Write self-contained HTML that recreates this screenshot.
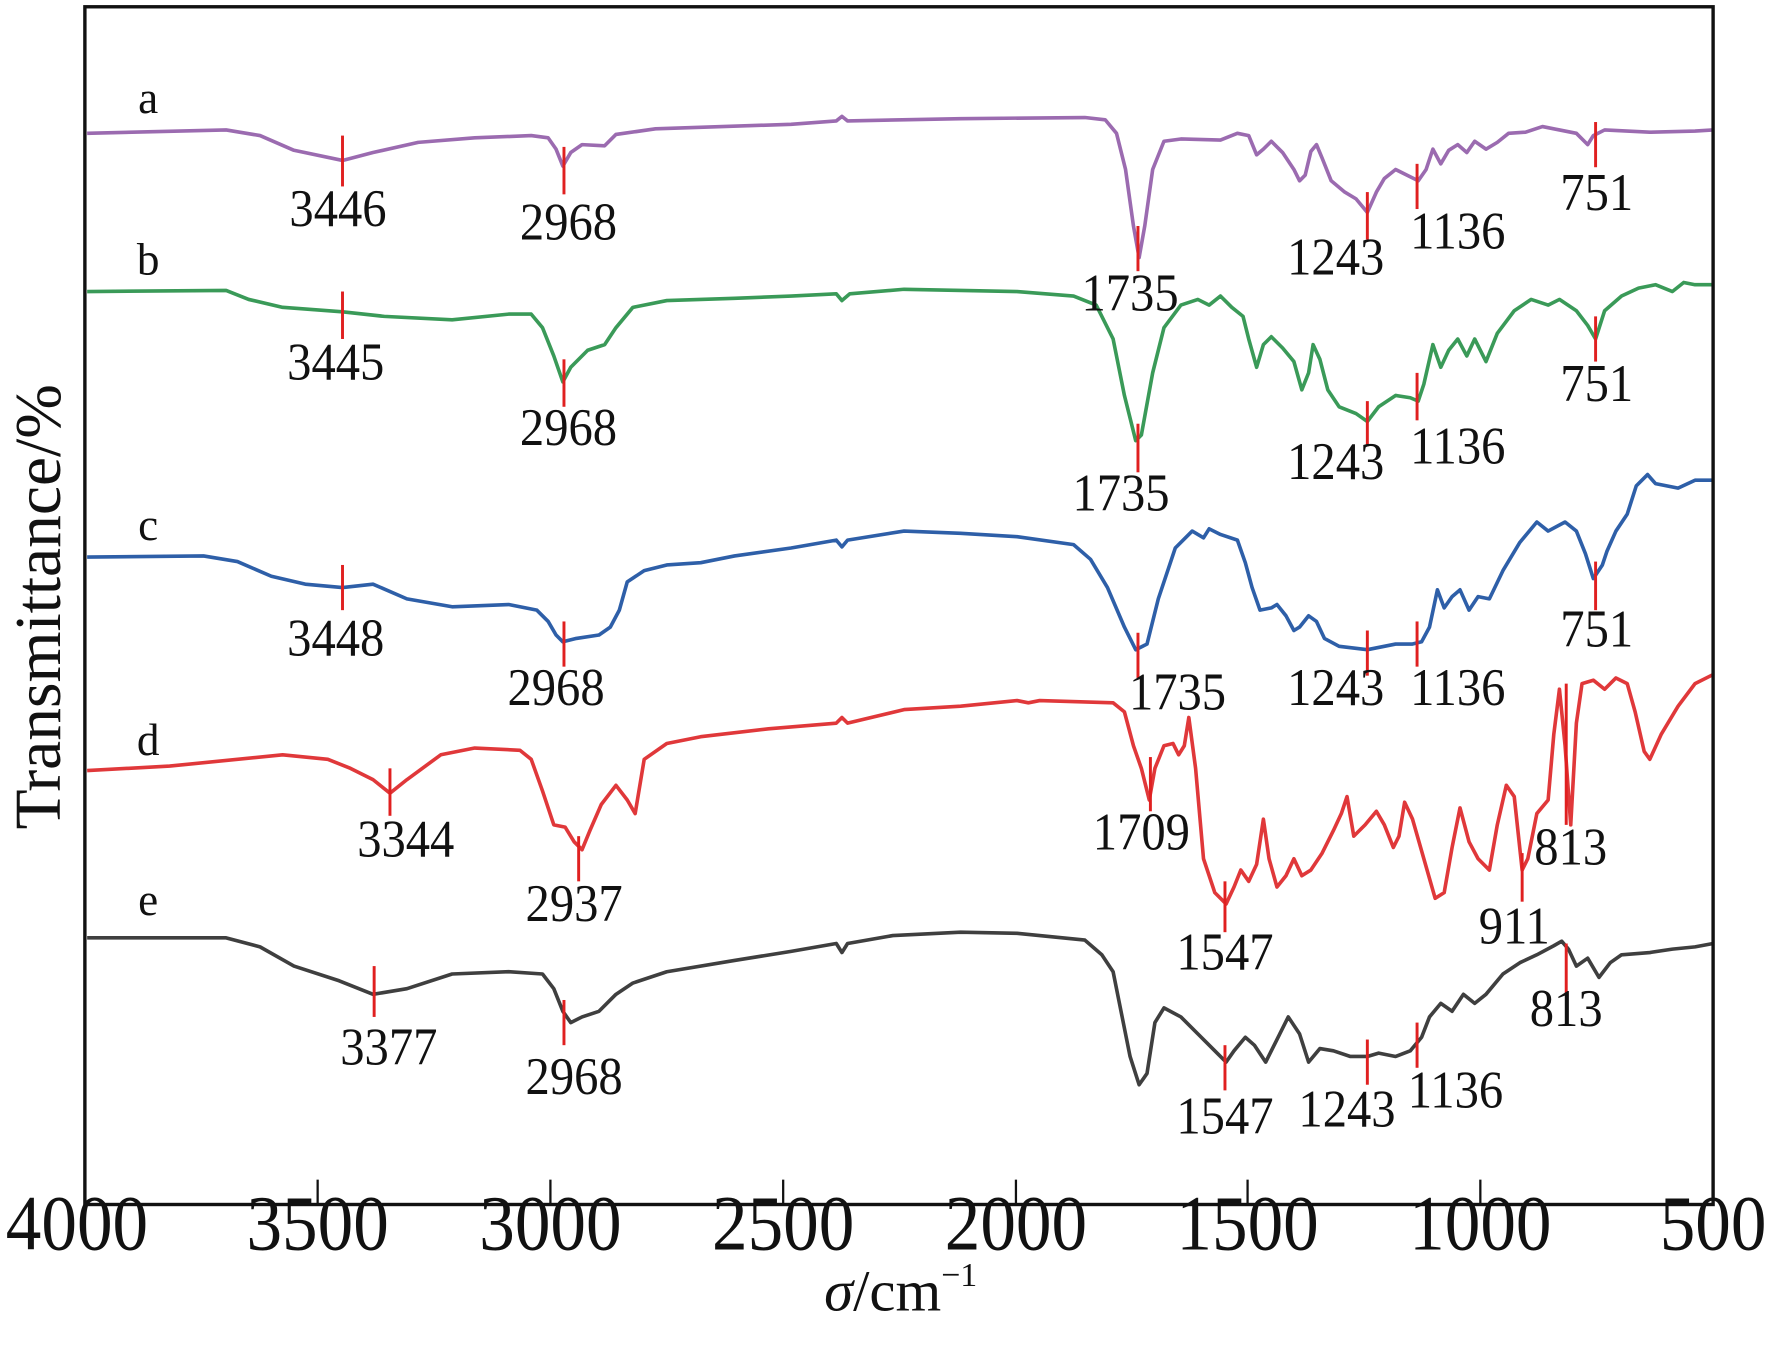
<!DOCTYPE html>
<html><head><meta charset="utf-8"><style>html,body{margin:0;padding:0;background:#fff}svg{display:block}</style></head><body>
<svg width="1772" height="1348" viewBox="0 0 1568 1193" xmlns="http://www.w3.org/2000/svg" font-family="'Liberation Serif', serif">
<rect width="1568" height="1193" fill="#fff"/>
<g fill="none" stroke-width="3.2" stroke-linejoin="round">
<polyline stroke="#9b6bb0" points="77,118 200,115 230,120 260,133 303,142 330,135 370,126 420,122 470,120 485,122 492,132 498,147 505,135 515,128 535,129 545,119 580,114 700,110 740,107 745,103 750,107 850,105 960,104 978,106 988,118 996,150 1003,200 1008,228 1013,200 1020,150 1030,125 1045,123 1080,124 1095,118 1105,120 1112,137 1118,132 1125,125 1135,135 1145,150 1150,160 1155,155 1160,134 1165,128 1170,140 1178,160 1190,170 1200,176 1210,188 1218,170 1225,158 1235,150 1245,155 1255,160 1262,150 1268,132 1275,145 1282,133 1290,128 1298,135 1305,125 1315,132 1325,126 1335,118 1350,117 1365,112 1380,115 1395,118 1405,128 1410,120 1420,115 1460,117 1500,116 1516,115"/>
<polyline stroke="#3a9a58" points="77,258 200,257 220,265 250,272 303,276 340,280 400,283 450,278 470,278 480,290 490,315 498,338 505,325 520,310 535,305 545,290 560,272 590,266 650,264 700,262 740,260 745,266 752,260 800,256 900,258 950,262 970,270 985,300 995,350 1005,390 1010,385 1020,330 1030,290 1045,270 1060,265 1070,270 1080,262 1090,272 1100,280 1105,300 1112,325 1118,305 1125,298 1135,308 1145,320 1152,345 1158,330 1162,305 1168,318 1175,345 1185,360 1200,366 1210,373 1220,360 1235,350 1248,352 1255,355 1260,340 1268,305 1275,325 1282,310 1290,300 1298,315 1305,300 1315,320 1325,295 1340,275 1355,265 1370,270 1380,265 1395,275 1405,288 1412,300 1420,275 1435,262 1450,255 1465,252 1480,258 1490,250 1500,252 1516,252"/>
<polyline stroke="#2e5fa8" points="77,493 180,492 210,497 240,510 270,517 303,520 330,517 360,530 400,537 450,535 475,540 485,550 492,562 498,568 510,565 530,562 540,555 548,540 555,515 570,505 590,500 620,498 650,492 700,485 740,478 745,484 750,478 800,470 850,472 900,475 950,482 965,495 980,520 995,555 1005,575 1015,570 1025,530 1040,485 1055,470 1065,476 1070,468 1080,473 1095,478 1102,498 1108,520 1115,540 1125,538 1130,535 1138,545 1145,558 1150,555 1158,545 1165,550 1172,565 1185,572 1210,575 1235,570 1250,570 1258,568 1265,555 1272,522 1278,538 1285,528 1292,522 1300,540 1308,528 1318,530 1330,505 1345,480 1360,462 1370,470 1385,462 1395,470 1403,490 1410,512 1418,500 1422,488 1430,470 1440,455 1448,430 1458,420 1465,428 1475,430 1485,432 1500,425 1516,425"/>
<polyline stroke="#e0383a" points="77,682 150,678 250,668 290,672 310,680 330,690 345,702 360,690 390,668 420,662 460,664 470,672 480,700 490,730 500,732 508,745 515,752 522,735 532,712 545,695 555,708 562,720 570,672 590,658 620,652 680,645 740,640 745,635 750,640 800,628 850,625 900,620 910,622 920,620 985,622 995,630 1003,660 1010,680 1017,708 1022,680 1030,660 1038,658 1043,668 1048,660 1052,635 1058,680 1065,760 1075,790 1085,800 1092,785 1098,770 1105,780 1112,765 1118,725 1123,760 1130,785 1138,775 1145,760 1152,775 1160,770 1170,755 1180,735 1187,720 1192,705 1198,740 1208,730 1218,718 1225,730 1233,750 1238,740 1243,710 1250,725 1260,760 1270,795 1278,790 1285,750 1292,715 1300,745 1308,760 1318,770 1325,730 1333,695 1340,705 1347,770 1352,760 1360,720 1370,708 1375,650 1380,610 1385,660 1390,730 1395,640 1400,605 1410,602 1420,610 1430,600 1440,605 1447,630 1455,665 1460,672 1470,650 1485,625 1500,605 1516,597"/>
<polyline stroke="#3f3f3f" points="77,830 200,830 230,838 260,855 300,868 330,880 360,875 400,862 450,860 480,862 490,875 498,895 505,905 515,900 530,895 545,880 560,870 590,860 650,850 700,842 740,835 745,843 750,835 790,828 850,825 900,826 960,832 975,845 985,860 993,900 1000,935 1008,960 1015,950 1022,905 1030,892 1045,900 1060,915 1075,930 1085,940 1092,930 1102,918 1110,925 1120,940 1130,920 1140,900 1150,915 1158,940 1168,928 1180,930 1195,935 1210,935 1220,932 1235,935 1248,930 1258,918 1265,900 1275,888 1285,895 1295,880 1305,888 1315,880 1330,862 1345,852 1360,845 1375,837 1382,833 1388,840 1395,855 1405,848 1415,865 1425,852 1435,845 1460,843 1480,840 1500,838 1516,835"/>
</g>
<g stroke="#e02020" stroke-width="2.6">
<line x1="303" y1="120" x2="303" y2="165"/><line x1="499" y1="130" x2="499" y2="172"/><line x1="1007" y1="200" x2="1007" y2="240"/><line x1="1210" y1="170" x2="1210" y2="212"/><line x1="1254" y1="145" x2="1254" y2="185"/><line x1="1412" y1="108" x2="1412" y2="148"/>
<line x1="303" y1="258" x2="303" y2="300"/><line x1="499" y1="318" x2="499" y2="360"/><line x1="1007" y1="375" x2="1007" y2="418"/><line x1="1210" y1="355" x2="1210" y2="395"/><line x1="1254" y1="330" x2="1254" y2="372"/><line x1="1412" y1="280" x2="1412" y2="320"/>
<line x1="303" y1="500" x2="303" y2="540"/><line x1="499" y1="550" x2="499" y2="590"/><line x1="1007" y1="560" x2="1007" y2="600"/><line x1="1210" y1="558" x2="1210" y2="598"/><line x1="1254" y1="550" x2="1254" y2="590"/><line x1="1412" y1="497" x2="1412" y2="540"/>
<line x1="345" y1="680" x2="345" y2="722"/><line x1="512" y1="740" x2="512" y2="780"/><line x1="1018" y1="670" x2="1018" y2="718"/><line x1="1084" y1="780" x2="1084" y2="825"/><line x1="1347" y1="755" x2="1347" y2="798"/><line x1="1386" y1="605" x2="1386" y2="730"/>
<line x1="331" y1="855" x2="331" y2="900"/><line x1="499" y1="885" x2="499" y2="925"/><line x1="1084" y1="925" x2="1084" y2="965"/><line x1="1210" y1="920" x2="1210" y2="960"/><line x1="1254" y1="905" x2="1254" y2="945"/><line x1="1386" y1="835" x2="1386" y2="880"/>
</g>
<g font-size="43" text-anchor="middle" fill="#111">
<g transform="translate(0,200) scale(1,1.08) translate(0,-200)"><text x="299" y="200">3446</text></g>
<g transform="translate(0,212) scale(1,1.08) translate(0,-212)"><text x="503" y="212">2968</text></g>
<g transform="translate(0,275) scale(1,1.08) translate(0,-275)"><text x="1000" y="275">1735</text></g>
<g transform="translate(0,243) scale(1,1.08) translate(0,-243)"><text x="1182" y="243">1243</text></g>
<g transform="translate(0,220) scale(1,1.08) translate(0,-220)"><text x="1290" y="220">1136</text></g>
<g transform="translate(0,186) scale(1,1.08) translate(0,-186)"><text x="1413" y="186">751</text></g>
<g transform="translate(0,336) scale(1,1.08) translate(0,-336)"><text x="297" y="336">3445</text></g>
<g transform="translate(0,394) scale(1,1.08) translate(0,-394)"><text x="503" y="394">2968</text></g>
<g transform="translate(0,452) scale(1,1.08) translate(0,-452)"><text x="992" y="452">1735</text></g>
<g transform="translate(0,424) scale(1,1.08) translate(0,-424)"><text x="1182" y="424">1243</text></g>
<g transform="translate(0,410) scale(1,1.08) translate(0,-410)"><text x="1290" y="410">1136</text></g>
<g transform="translate(0,355) scale(1,1.08) translate(0,-355)"><text x="1413" y="355">751</text></g>
<g transform="translate(0,580) scale(1,1.08) translate(0,-580)"><text x="297" y="580">3448</text></g>
<g transform="translate(0,624) scale(1,1.08) translate(0,-624)"><text x="492" y="624">2968</text><text x="1182" y="624">1243</text><text x="1290" y="624">1136</text></g>
<g transform="translate(0,628) scale(1,1.08) translate(0,-628)"><text x="1042" y="628">1735</text></g>
<g transform="translate(0,572) scale(1,1.08) translate(0,-572)"><text x="1413" y="572">751</text></g>
<g transform="translate(0,758) scale(1,1.08) translate(0,-758)"><text x="359" y="758">3344</text></g>
<g transform="translate(0,815) scale(1,1.08) translate(0,-815)"><text x="508" y="815">2937</text></g>
<g transform="translate(0,752) scale(1,1.08) translate(0,-752)"><text x="1010" y="752">1709</text></g>
<g transform="translate(0,858) scale(1,1.08) translate(0,-858)"><text x="1084" y="858">1547</text></g>
<g transform="translate(0,835) scale(1,1.08) translate(0,-835)"><text x="1340" y="835">911</text></g>
<g transform="translate(0,765) scale(1,1.08) translate(0,-765)"><text x="1390" y="765">813</text></g>
<g transform="translate(0,942) scale(1,1.08) translate(0,-942)"><text x="344" y="942">3377</text></g>
<g transform="translate(0,968) scale(1,1.08) translate(0,-968)"><text x="508" y="968">2968</text></g>
<g transform="translate(0,1003) scale(1,1.08) translate(0,-1003)"><text x="1084" y="1003">1547</text></g>
<g transform="translate(0,997) scale(1,1.08) translate(0,-997)"><text x="1192" y="997">1243</text></g>
<g transform="translate(0,980) scale(1,1.08) translate(0,-980)"><text x="1288" y="980">1136</text></g>
<g transform="translate(0,908) scale(1,1.08) translate(0,-908)"><text x="1386" y="908">813</text></g>
</g>
<g font-size="40" fill="#111" text-anchor="middle">
<text x="131" y="100">a</text><text x="131" y="243">b</text><text x="131" y="478">c</text><text x="131" y="668">d</text><text x="131" y="810">e</text>
</g>
<rect x="75" y="6" width="1441" height="1060" fill="none" stroke="#111" stroke-width="3"/>
<g stroke="#111" stroke-width="2">
<line x1="281" y1="1066" x2="281" y2="1044"/><line x1="487" y1="1066" x2="487" y2="1044"/><line x1="693" y1="1066" x2="693" y2="1044"/><line x1="899" y1="1066" x2="899" y2="1044"/><line x1="1104" y1="1066" x2="1104" y2="1044"/><line x1="1310" y1="1066" x2="1310" y2="1044"/>
</g>
<g transform="translate(0,1106) scale(1,1.1) translate(0,-1106)">
<g font-size="63" fill="#111" text-anchor="middle">
<text x="68" y="1106">4000</text><text x="281" y="1106">3500</text><text x="487" y="1106">3000</text><text x="693" y="1106">2500</text><text x="899" y="1106">2000</text><text x="1104" y="1106">1500</text><text x="1310" y="1106">1000</text><text x="1516" y="1106">500</text>
</g></g>
<text x="797" y="1160" font-size="52" text-anchor="middle" fill="#111"><tspan font-style="italic">σ</tspan>/cm<tspan font-size="30" dy="-22">−1</tspan></text>
<text transform="translate(53,537) rotate(-90)" font-size="58" text-anchor="middle" fill="#111">Transmittance/%</text>
</svg>
</body></html>
